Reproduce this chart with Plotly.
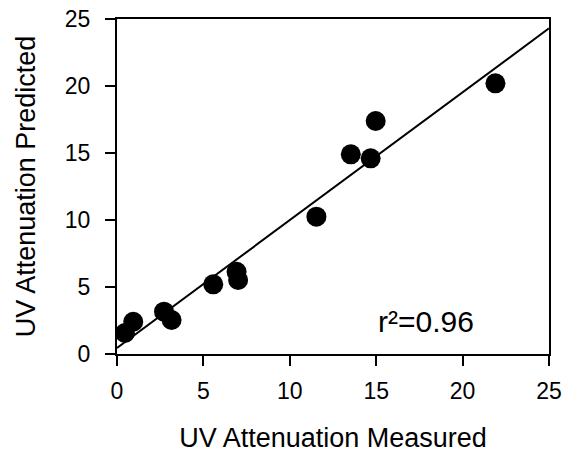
import plotly.graph_objects as go

measured = [0.46, 0.94, 2.72, 3.16, 5.57, 6.92, 7.01, 11.54, 13.53, 14.68, 14.97, 21.9]
predicted = [1.57, 2.41, 3.16, 2.54, 5.2, 6.14, 5.52, 10.25, 14.9, 14.6, 17.39, 20.2]
fit_x = [0, 25]
fit_y = [0.45, 24.3]
tick_vals = [0, 5, 10, 15, 20, 25]
r2_label = "r²=0.96"

FONT = "Liberation Sans, Arial, sans-serif"

fig = go.Figure()
fig.add_trace(go.Scatter(x=fit_x, y=fit_y, mode="lines",
                         line=dict(color="black", width=2), showlegend=False))
fig.add_trace(go.Scatter(x=measured, y=predicted, mode="markers",
                         marker=dict(color="black", size=20), cliponaxis=False,
                         showlegend=False))

axis_common = dict(range=[0, 25], tickvals=tick_vals, showgrid=False, zeroline=False,
                   showline=True, linecolor="black", linewidth=2, mirror=True,
                   ticks="outside", ticklen=10, tickwidth=2, tickcolor="black",
                   automargin=False,
                   tickfont=dict(family=FONT, size=23, color="black"))

fig.update_xaxes(**axis_common, ticklabelstandoff=5,
                 title=dict(text="UV Attenuation Measured",
                            font=dict(family=FONT, size=27, color="black"), standoff=26))
fig.update_yaxes(**axis_common, ticklabelstandoff=10,
                 title=dict(text="UV Attenuation Predicted",
                            font=dict(family=FONT, size=27, color="black"), standoff=21))

fig.add_annotation(x=0.6, y=0.0985, xref="paper", yref="paper", text=r2_label,
                   showarrow=False, xanchor="left", yanchor="middle",
                   font=dict(family=FONT, size=30, color="black"))

fig.update_layout(width=572, height=457, plot_bgcolor="white", paper_bgcolor="white",
                  margin=dict(l=117, r=23, t=19, b=103))

fig.write_html("out.html", config={"displayModeBar": False},
               post_script="document.body.style.margin='0';")
